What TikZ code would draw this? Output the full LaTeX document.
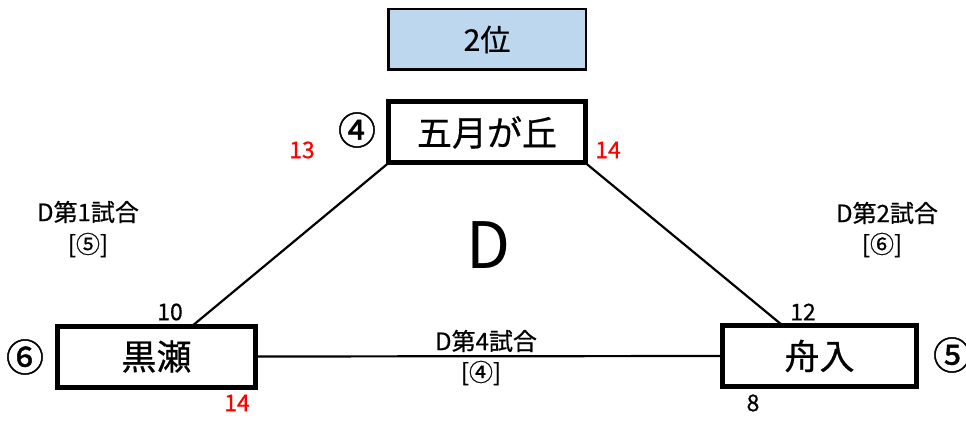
\documentclass[tikz,border=0pt]{standalone}
\usepackage{fontspec}
\setmainfont{Noto Sans CJK JP}
\newfontfamily\heavyfont{Noto Sans CJK JP}[FakeBold=1.2]
\newfontfamily\midfont{Noto Sans CJK JP}[FakeBold=0.6]
\usetikzlibrary{calc}
\definecolor{rankblue}{HTML}{BDD7EE}
\definecolor{numred}{HTML}{FF0000}
\tikzset{
  team/.style={draw=black, line width=5pt, fill=white, inner sep=0pt, outer sep=0pt,
    minimum width=197pt, minimum height=61pt, font=\midfont\fontsize{35}{38}\selectfont},
  rankbox/.style={draw=black, line width=2.5pt, fill=rankblue, inner sep=0pt,
    minimum width=197.5pt, minimum height=60.5pt, font=\midfont\fontsize{30}{33}\selectfont},
  match/.style={font=\midfont\fontsize{24}{26}\selectfont, inner sep=0pt},
  score/.style={font=\midfont\fontsize{23}{25}\selectfont, inner sep=0pt},
  redscore/.style={score, text=numred},
  seed/.style={font=\heavyfont\fontsize{38}{40}\selectfont, inner sep=0pt},
  conn/.style={draw=black, line width=2.2pt}
}
\begin{document}
\begin{tikzpicture}[x=1pt,y=-1pt]
\useasboundingbox (0,0) rectangle (966,422);
\fill[white] (0,0) rectangle (966,422);
\node[rankbox] (rank) at (487,39.5) {2位};
\node[team] (s) at (487,132.5) {五月が丘};
\node[team, minimum width=198pt] (k) at (156.5,356.5) {黒瀬};
\node[team, minimum width=194pt] (f) at (819.5,356) {舟入};
\draw[conn] (s.south west) -- ($(k.north west)!0.68!(k.north east)$);
\draw[conn] (s.south east) -- ($(f.north west)!0.31!(f.north east)$);
\draw[conn] (k.east) -- (f.west);
\node[seed] (s4) at (357,130) {④};
\node[seed] (k6) at (25,357) {⑥};
\node[seed] (f5) at (952,355) {⑤};
\node[redscore] (n13) at (302,150) {13};
\node[redscore] (n14a) at (608,150) {14};
\node[score] (n10) at (170,312) {10};
\node[redscore] (n14b) at (237,403) {14};
\node[score] (n12) at (803,312) {12};
\node[score] (n8) at (753,403) {8};
\node[match] (m1) at (88,212) {D第1試合};
\node[match] (m1w) at (88,245) {[⑤]};
\node[match] (m2) at (887,213) {D第2試合};
\node[match] (m2w) at (882,245) {[⑥]};
\node[match] (m4) at (486,341) {D第4試合};
\node[match] (m4w) at (481,373) {[④]};
\node[font=\fontsize{64}{66}\selectfont, inner sep=0pt] (grp) at (489,245) {D};
\end{tikzpicture}
\end{document}
